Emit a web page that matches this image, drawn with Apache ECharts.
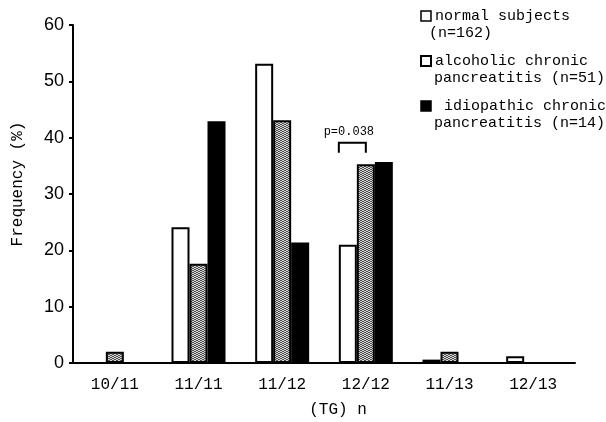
<!DOCTYPE html>
<html>
<head>
<meta charset="utf-8">
<script src="https://cdn.jsdelivr.net/npm/echarts@6/dist/echarts.min.js"></script>
<style>
  html, body { margin: 0; padding: 0; background: #fff; }
  #chart { width: 606px; height: 422px; }
</style>
</head>
<body>
<div id="chart"></div>
<script>
// TG repeat genotypes (n) and frequency (%) in each group
const categories = ['10/11', '11/11', '11/12', '12/12', '11/13', '12/13'];
const normalSubjects = [0, 24.1, 53.1, 21.0, 0.6, 1.2];
const alcoholicCP = [2.0, 17.6, 43.1, 35.3, 2.0, 0];
const idiopathicCP = [0, 42.9, 21.4, 35.7, 0, 0];
const seriesNames = ['normal subjects', 'alcoholic chronic pancreatitis', 'idiopathic chronic pancreatitis'];
const legendLines = [
  ['normal subjects', '(n=162)'],
  ['alcoholic chronic', 'pancreatitis (n=51)'],
  [' idiopathic chronic', 'pancreatitis (n=14)']
];
const yMin = 0, yMax = 60, yStep = 10;
const pLabel = 'p=0.038';

// stippled grey fill for the alcoholic group
function stipple() {
  const c = document.createElement('canvas');
  c.width = 4; c.height = 4;
  const g = c.getContext('2d');
  g.fillStyle = '#d4d4d4';
  g.fillRect(0, 0, 4, 4);
  g.fillStyle = '#505050';
  [[0, 0], [2, 1], [1, 2], [3, 3], [3, 1], [1, 0], [2, 3], [0, 2]].forEach(p => g.fillRect(p[0], p[1], 1, 1));
  return c;
}

const mono = '"Liberation Mono", "DejaVu Sans Mono", monospace';
const chart = echarts.init(document.getElementById('chart'), null, { renderer: 'canvas' });

chart.setOption({
  animation: false,
  backgroundColor: '#fff',
  grid: { left: 73, right: 31, top: 25, bottom: 59, containLabel: false },
  xAxis: {
    type: 'category',
    data: categories,
    axisLine: { lineStyle: { color: '#000', width: 2 } },
    axisTick: { show: false },
    axisLabel: { color: '#000', fontFamily: mono, fontSize: 16, margin: 14 }
  },
  yAxis: {
    type: 'value',
    min: yMin, max: yMax, interval: yStep,
    splitLine: { show: false },
    axisLine: { show: true, lineStyle: { color: '#000', width: 2 } },
    axisTick: { show: true, length: 4, lineStyle: { color: '#000', width: 2 } },
    axisLabel: { color: '#000', fontFamily: '"Liberation Sans Narrow", "Liberation Sans", Arial, sans-serif', fontSize: 18, margin: 9 }
  },
  series: [
    {
      name: seriesNames[0], type: 'bar', data: normalSubjects,
      barWidth: 18, barGap: '0%',
      itemStyle: { color: '#fff', borderColor: '#000', borderWidth: 2 }
    },
    {
      name: seriesNames[1], type: 'bar', data: alcoholicCP,
      barWidth: 18, barGap: '0%',
      itemStyle: { color: { image: stipple(), repeat: 'repeat' }, borderColor: '#000', borderWidth: 2 }
    },
    {
      name: seriesNames[2], type: 'bar', data: idiopathicCP,
      barWidth: 18, barGap: '0%',
      itemStyle: { color: '#000' }
    }
  ]
});

// annotations positioned from the axes
const base = chart.convertToPixel({ xAxisIndex: 0, yAxisIndex: 0 }, ['12/12', 0]);
const topY = chart.convertToPixel({ yAxisIndex: 0 }, 39.1);
const cx = base[0];
const bx0 = cx - 27, bx1 = cx;

const graphics = [
  {
    type: 'polyline',
    shape: { points: [[bx0, topY + 10], [bx0, topY], [bx1, topY], [bx1, topY + 10]] },
    style: { stroke: '#000', lineWidth: 2, fill: null }
  },
  {
    type: 'text', x: cx - 17, y: topY - 11,
    style: { text: pLabel, fontFamily: mono, fontSize: 12, fill: '#000', align: 'center', verticalAlign: 'middle' }
  },
  {
    type: 'text', x: 338, y: 410,
    style: { text: '(TG) n', fontFamily: mono, fontSize: 16, fill: '#000', align: 'center', verticalAlign: 'middle' }
  },
  {
    type: 'text', x: 18, y: 184, rotation: Math.PI / 2,
    style: { text: 'Frequency (%)', fontFamily: mono, fontSize: 16, fill: '#000', align: 'center', verticalAlign: 'middle' }
  }
];

// legend block on the upper right
const legendRows = [16, 61, 106];
const fills = ['#fff', '#fff', '#000'];
legendRows.forEach((y, i) => {
  graphics.push({
    type: 'rect',
    shape: { x: 421, y: y - 5, width: 10, height: 10 },
    style: { fill: fills[i], stroke: '#000', lineWidth: i === 1 ? 2 : 1.5 }
  });
  legendLines[i].forEach((line, k) => {
    graphics.push({
      type: 'text', x: k === 0 ? 435 : (i === 0 ? 429 : 434), y: y + k * 17,
      style: { text: line, fontFamily: mono, fontSize: 15, fill: '#000', align: 'left', verticalAlign: 'middle' }
    });
  });
});

chart.setOption({ graphic: graphics });
</script>
</body>
</html>
